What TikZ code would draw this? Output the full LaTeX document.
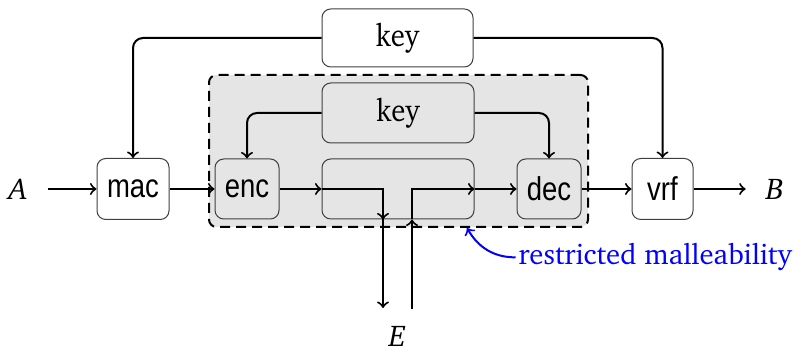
\documentclass[tikz,border=0pt]{standalone}
\usepackage{fontspec}
\usepackage{graphicx}
\newfontfamily\diasans{Liberation Sans}
\newcommand\chfont{\fontencoding{T1}\fontfamily{bch}\selectfont}
\begin{document}
\begin{tikzpicture}[x=0.4pt,y=-0.4pt,
  every node/.style={font=\chfont\fontsize{11.5}{14}\selectfont},
  blk/.style={draw=black!75, rounded corners=3.5pt, inner sep=0pt, minimum height=24pt},
  sbox/.style={blk, font=\diasans\fontsize{11}{13}\selectfont},
  conn/.style={thick,->},
  letter/.style={inner xsep=8.5pt, inner ysep=0pt, font=\chfont\itshape\fontsize{12}{14}\selectfont}]
\useasboundingbox (0,0) rectangle (797,350);
\node[draw, thick, dash pattern=on 4pt off 2.4pt, fill=gray!20, rounded corners=3pt,
      minimum width=151.6pt, minimum height=60.8pt, inner sep=0pt] (zone) at (398.5,151) {};
\node[blk, fill=white, minimum width=60.4pt, minimum height=23.2pt] (keyT) at (397.5,38) {\scalebox{1}[1.1]{key}};
\node[blk, minimum width=60.8pt] (keyI) at (398,113) {\scalebox{1}[1.1]{key}};
\node[sbox, minimum width=25.6pt] (enc) at (247,189) {\scalebox{1}[1.2]{enc}};
\node[blk, minimum width=60.8pt] (mid) at (398,189) {};
\node[sbox, minimum width=25.6pt] (dec) at (549,189) {\scalebox{1}[1.2]{dec}};
\node[sbox, fill=white, minimum width=28.8pt, minimum height=24.4pt] (mac) at (133,189) {\scalebox{1}[1.2]{mac}};
\node[sbox, fill=white, minimum width=24.4pt, minimum height=24.4pt] (vrf) at (662.5,189) {\scalebox{1}[1.2]{vrf}};
\node[letter, inner xsep=8pt] (A) at (18,189) {A};
\node[letter, inner xsep=8pt] (B) at (775,189) {B};
\node[letter, inner xsep=0pt, anchor=base] (E) at (397,347) {E};
\coordinate (eo) at (383,308);
\coordinate (ei) at (412,309);
\coordinate (tip) at (467,228);
\node[blue, inner sep=0pt, anchor=base west] (lbl) at (518,265) {restricted malleability};
\draw[conn, rounded corners=4pt] (keyT.west) -| (mac.north);
\draw[conn, rounded corners=4pt] (keyT.east) -| (vrf.north);
\draw[conn, rounded corners=4pt] (keyI.west) -| (enc.north);
\draw[conn, rounded corners=4pt] (keyI.east) -| (dec.north);
\draw[conn] (A) -- (mac);
\draw[conn] (mac) -- (enc);
\draw[conn] (enc) -- (mid);
\draw[conn] (mid.west) -| (eo |- mid.south);
\draw[conn] (eo |- mid.south) -- (eo);
\draw[conn] (ei) -- (ei |- mid.south);
\draw[conn] (ei |- mid.south) |- (mid.east);
\draw[conn] (mid) -- (dec);
\draw[conn] (dec) -- (vrf);
\draw[conn] (vrf) -- (B);
\draw[->, blue, thick] ([xshift=-1pt]lbl.west) to[out=180, in=-60] (tip);
\end{tikzpicture}
\end{document}
